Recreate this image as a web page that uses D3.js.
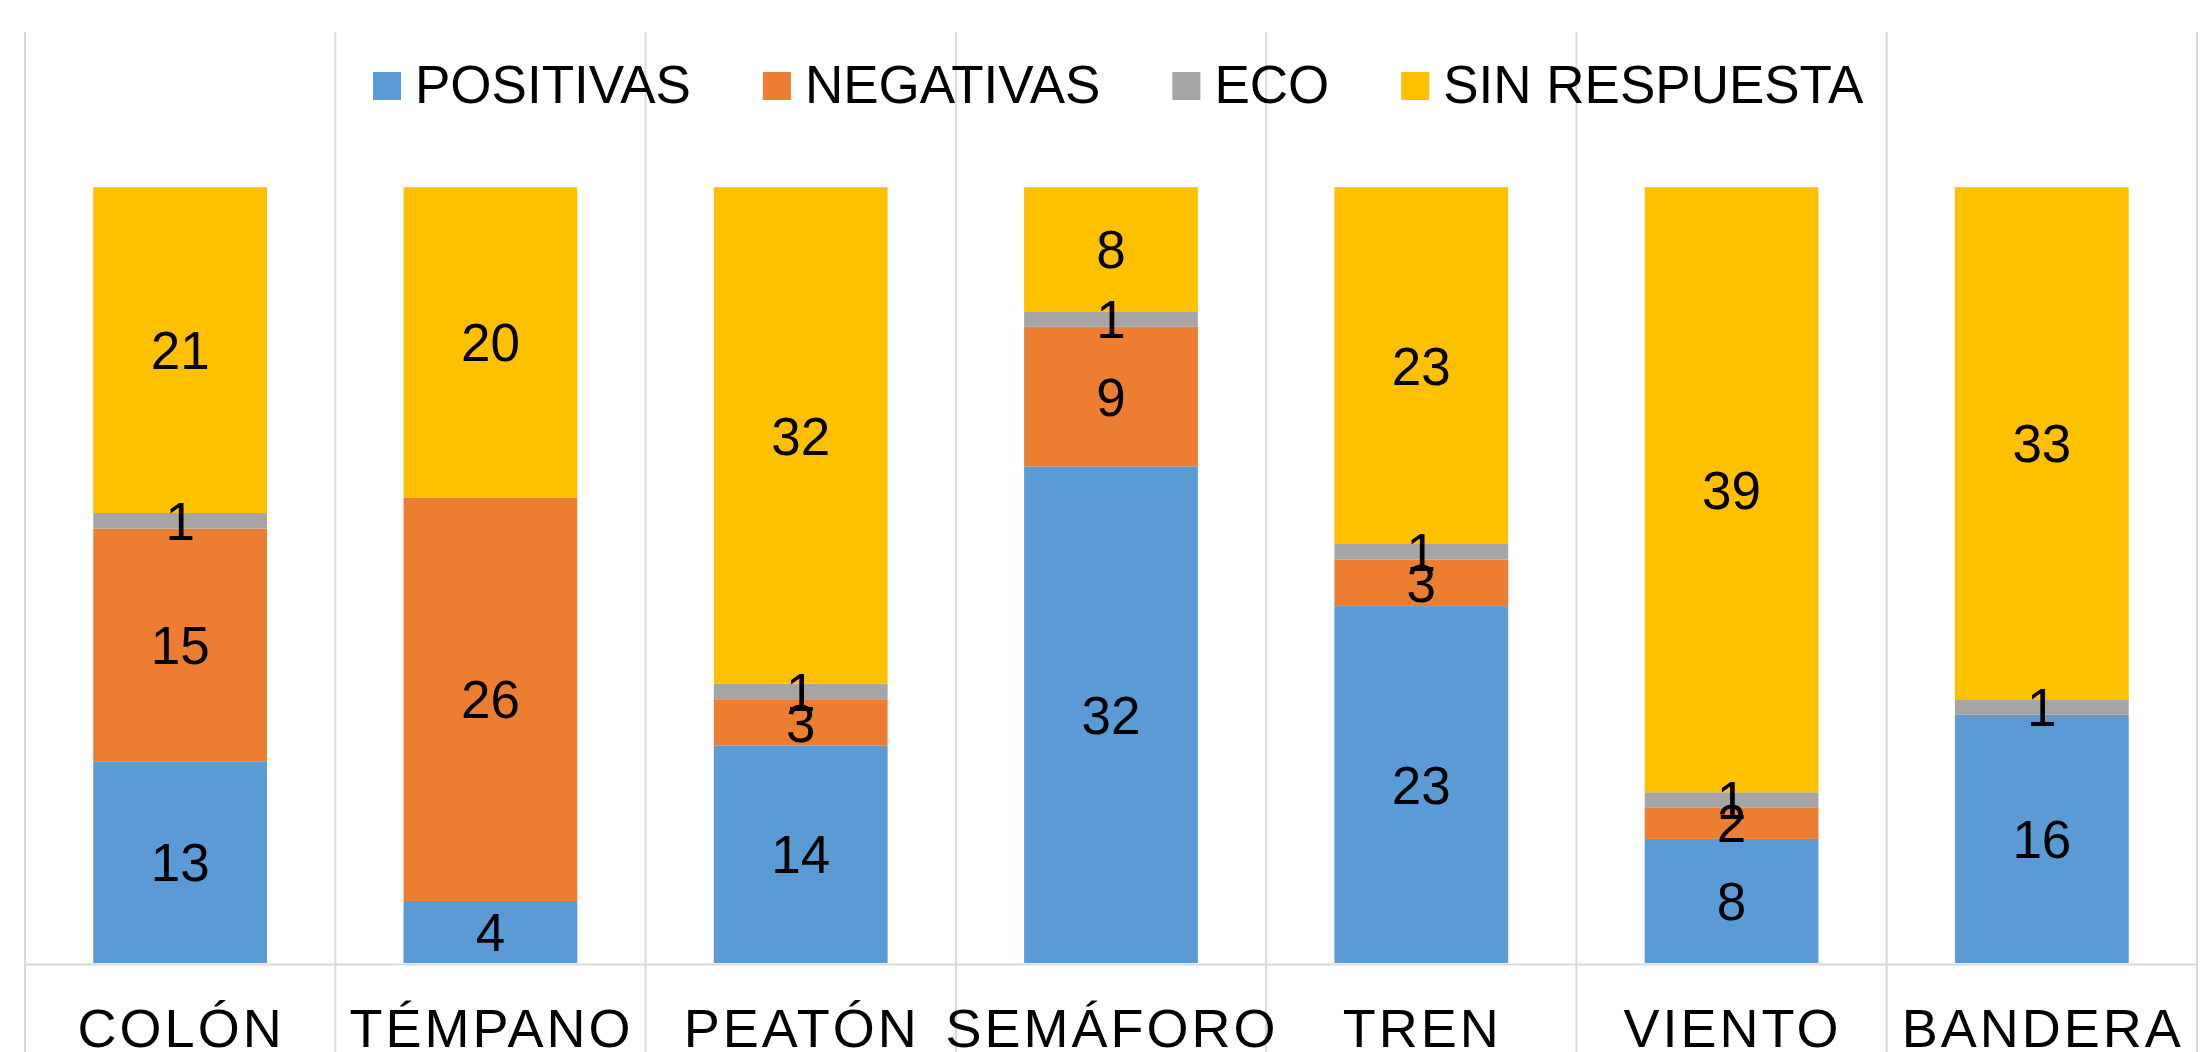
<!DOCTYPE html>
<html>
<head>
<meta charset="utf-8">
<script src="https://cdn.jsdelivr.net/npm/d3@7"></script>
<style>
  html, body { margin: 0; padding: 0; background: #fff; }
  svg { display: block; font-family: "Liberation Sans", Arial, sans-serif; }
</style>
</head>
<body>
<svg id="chart" width="2207" height="1052"></svg>
<script>
// stacked bars, four answer types per word
const categories = ['COLÓN', 'TÉMPANO', 'PEATÓN', 'SEMÁFORO', 'TREN', 'VIENTO', 'BANDERA'];
const seriesNames = ['POSITIVAS', 'NEGATIVAS', 'ECO', 'SIN RESPUESTA'];
const positivas = [13, 4, 14, 32, 23, 8, 16];
const negativas = [15, 26, 3, 9, 3, 2, 0];
const eco       = [1, 0, 1, 1, 1, 1, 1];
const sinResp   = [21, 20, 32, 8, 23, 39, 33];
const colors = ['#5B9BD5', '#ED7D31', '#A5A5A5', '#FFC000'];

const W = 2207, H = 1052;
const plotLeft = 25, plotRight = 2197, plotTop = 32, plotBase = 963;

const rows = categories.map((c, i) => ({
  cat: c,
  'POSITIVAS': positivas[i],
  'NEGATIVAS': negativas[i],
  'ECO': eco[i],
  'SIN RESPUESTA': sinResp[i]
}));

const stack = d3.stack().keys(seriesNames)(rows);

const x = d3.scaleBand().domain(categories).range([plotLeft, plotRight]).paddingInner(0).paddingOuter(0);
const y = d3.scaleLinear().domain([0, 60]).range([plotBase, plotTop]);
const barW = x.bandwidth() * 0.56;

const svg = d3.select('#chart');

// vertical separators
svg.append('g').selectAll('line')
  .data(d3.range(categories.length + 1))
  .join('line')
  .attr('x1', i => plotLeft + i * x.bandwidth())
  .attr('x2', i => plotLeft + i * x.bandwidth())
  .attr('y1', plotTop)
  .attr('y2', H)
  .attr('stroke', '#D9D9D9')
  .attr('stroke-width', 2);

// bars
const layer = svg.append('g').selectAll('g')
  .data(stack)
  .join('g')
  .attr('fill', (d, i) => colors[i]);

layer.selectAll('rect')
  .data(d => d.map(p => ({ p, key: d.key })))
  .join('rect')
  .attr('x', d => x(d.p.data.cat) + (x.bandwidth() - barW) / 2)
  .attr('width', barW)
  .attr('y', d => y(d.p[1]))
  .attr('height', d => y(d.p[0]) - y(d.p[1]));

// axis line
svg.append('line')
  .attr('x1', plotLeft).attr('x2', plotRight)
  .attr('y1', plotBase + 1.5).attr('y2', plotBase + 1.5)
  .attr('stroke', '#D9D9D9').attr('stroke-width', 2);

// data labels
const labels = [];
stack.forEach(s => s.forEach(p => {
  const v = p.data[s.key];
  if (v > 0) labels.push({ cat: p.data.cat, v, mid: (p[0] + p[1]) / 2 });
}));

svg.append('g').selectAll('text')
  .data(labels)
  .join('text')
  .attr('x', d => x(d.cat) + x.bandwidth() / 2)
  .attr('y', d => y(d.mid))
  .attr('dy', '0.36em')
  .attr('text-anchor', 'middle')
  .attr('font-size', 53)
  .attr('fill', '#000')
  .text(d => d.v);

// category labels
svg.append('g').selectAll('text')
  .data(categories)
  .join('text')
  .attr('x', d => x(d) + x.bandwidth() / 2 + 1)
  .attr('y', 1047)
  .attr('text-anchor', 'middle')
  .attr('font-size', 54)
  .attr('letter-spacing', 3)
  .attr('fill', '#000')
  .text(d => d);

// legend
const legend = svg.append('g');
let lx = 373;
seriesNames.forEach((name, i) => {
  legend.append('rect')
    .attr('x', lx).attr('y', 72)
    .attr('width', 28).attr('height', 28)
    .attr('fill', colors[i]);
  const t = legend.append('text')
    .attr('x', lx + 42).attr('y', 103)
    .attr('font-size', 53)
    .attr('fill', '#000')
    .text(name);
  lx += 42 + t.node().getComputedTextLength() + 72;
});
</script>
</body>
</html>
